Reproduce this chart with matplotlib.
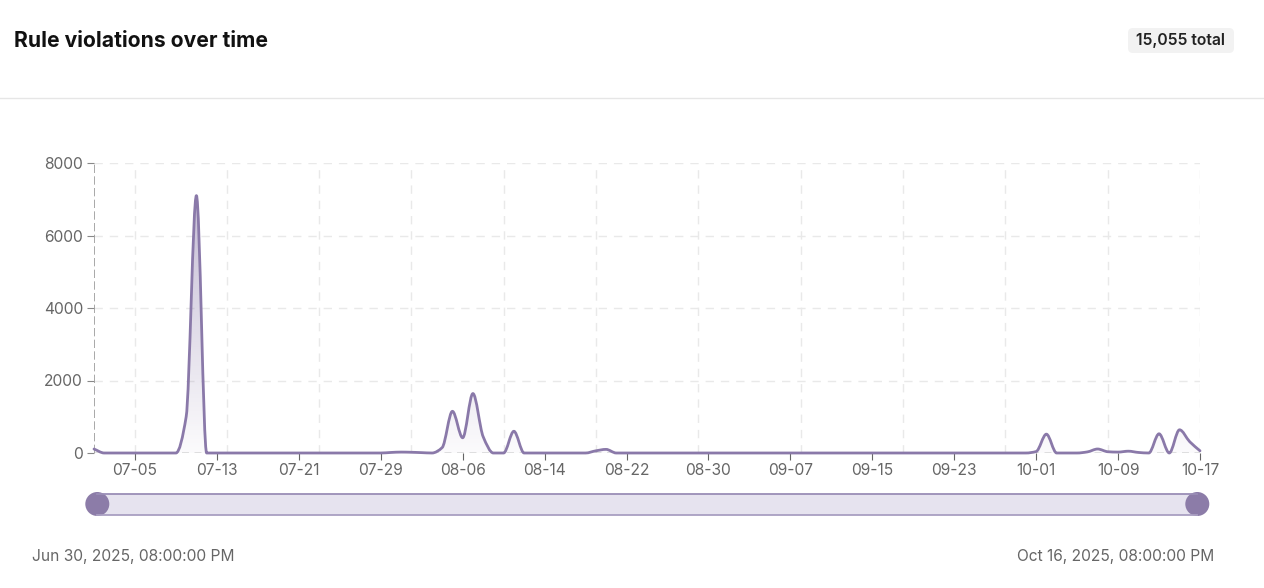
import datetime as dt
import numpy as np
import matplotlib
matplotlib.use("Agg")
import matplotlib.pyplot as plt
import matplotlib.dates as mdates
from matplotlib.path import Path
from matplotlib.patches import PathPatch, FancyBboxPatch, Circle, Rectangle

plt.rcParams['font.family'] = ['Inter', 'DejaVu Sans']

# ---------------- data ----------------
title = "Rule violations over time"
total_label = "15,055 total"
start_date = dt.date(2025, 7, 1)
end_date = dt.date(2025, 10, 17)

# daily counts, 07-01 .. 07-31
july = [110, 0, 0, 0, 0, 0, 0, 0, 0, 1000,
        7100, 0, 0, 0, 0, 0, 0, 0, 0, 0,
        0, 0, 0, 0, 0, 0, 0, 0, 0, 15,
        25]
# 08-01 .. 08-31
august = [20, 10, 0, 150, 1150, 420, 1640, 450, 0, 0,
          600, 0, 0, 0, 0, 0, 0, 0, 60, 100,
          0, 0, 0, 0, 0, 0, 0, 0, 0, 0,
          0]
# 09-01 .. 09-30
september = [0, 0, 0, 0, 0, 0, 0, 0, 0, 0,
             0, 0, 0, 0, 0, 0, 0, 0, 0, 0,
             0, 0, 0, 0, 0, 0, 0, 0, 0, 0]
# 10-01 .. 10-17
october = [40, 520, 0, 0, 0, 30, 110, 35, 25, 50,
           15, 0, 530, 0, 640, 310, 60]

y_ticks = [0, 2000, 4000, 6000, 8000]
x_tick_dates = ["2025-07-05", "2025-07-13", "2025-07-21", "2025-07-29",
                "2025-08-06", "2025-08-14", "2025-08-22", "2025-08-30",
                "2025-09-07", "2025-09-15", "2025-09-23", "2025-10-01",
                "2025-10-09", "2025-10-17"]
x_tick_labels = ["07-05", "07-13", "07-21", "07-29", "08-06", "08-14", "08-22",
                 "08-30", "09-07", "09-15", "09-23", "10-01", "10-09", "10-17"]
x_grid_dates = ["2025-07-05", "2025-07-14", "2025-07-23", "2025-08-01",
                "2025-08-10", "2025-08-19", "2025-08-29", "2025-09-08",
                "2025-09-18", "2025-09-28", "2025-10-08", "2025-10-17"]
slider_start_label = "Jun 30, 2025, 08:00:00 PM"
slider_end_label = "Oct 16, 2025, 08:00:00 PM"

values = np.array(july + august + september + october, dtype=float)
dates = [start_date + dt.timedelta(days=i) for i in range(len(values))]

# ---------------- style ----------------
W, H = 1264, 588
LINE = '#8a79a9'
GRID = '#e9e9e9'
TXT = '#666666'
FS = 11.2

fig = plt.figure(figsize=(W / 100, H / 100), dpi=100)
fig.patch.set_facecolor('white')

# background overlay in pixel coordinates
bg = fig.add_axes([0, 0, 1, 1], zorder=0)
bg.set_xlim(0, W)
bg.set_ylim(H, 0)
bg.axis('off')
bg.plot([0, W], [98, 98], color='#e6e6e6', lw=1.0)
bg.text(14, 41, title, fontsize=15.2, fontweight='bold', color='#111111',
        ha='left', va='center')
badge = FancyBboxPatch((1128, 28), 106, 25, boxstyle="round,pad=0,rounding_size=5",
                       facecolor='#f2f2f2', edgecolor='none')
bg.add_patch(badge)
bg.text(1180.5, 40.5, total_label, fontsize=11.3, fontweight='semibold', color='#222222',
        ha='center', va='center')

# slider
bg.add_patch(Rectangle((97, 494), 1100, 20.5, facecolor='#e6e3ef', edgecolor='none'))
bg.plot([97, 1197], [494, 494], color='#9a8db6', lw=1.3)
bg.plot([97, 1197], [514.5, 514.5], color='#a99fc2', lw=1.3)
bg.add_patch(Circle((97.3, 504), 12, facecolor='#8c7ca8', edgecolor='none'))
bg.add_patch(Circle((1197.3, 504), 12, facecolor='#8c7ca8', edgecolor='none'))
bg.text(133.5, 556, slider_start_label, fontsize=FS, color=TXT, ha='center', va='center')
bg.text(1115.5, 556, slider_end_label, fontsize=FS, color=TXT, ha='center', va='center')

# main axes
ax = fig.add_axes([94 / W, 135 / H, 1106 / W, 290 / H], zorder=1)
ax.patch.set_alpha(0)
x0 = mdates.date2num(start_date)
x1 = mdates.date2num(end_date)
ax.set_xlim(x0, x1)
ax.set_ylim(0, 8000)
for s in ax.spines.values():
    s.set_visible(False)

# grid
for yv in y_ticks[1:]:
    ax.axhline(yv, color=GRID, lw=1.0, ls=(0, (6, 5)), zorder=1)
for gd in x_grid_dates:
    ax.axvline(mdates.datestr2num(gd), color=GRID, lw=1.0, ls=(0, (6, 5)), zorder=1)

# axes lines
ax.axhline(0, color='#666666', lw=1.0, ls=(0, (5, 4)), zorder=2)
ax.axvline(x0, color='#999999', lw=1.2, ls=(0, (5, 2)), zorder=2)

# smooth monotone curve via cubic bezier
x = mdates.date2num(dates)
y = values
h = np.diff(x)
d = np.diff(y) / h
m = np.zeros(len(x))
for k in range(1, len(x) - 1):
    if d[k - 1] * d[k] > 0:
        m[k] = 2.0 / (1.0 / d[k - 1] + 1.0 / d[k])
m[0] = d[0]
m[-1] = d[-1]
verts = [(x[0], y[0])]
codes = [Path.MOVETO]
for i in range(len(x) - 1):
    verts += [(x[i] + h[i] / 3, y[i] + m[i] * h[i] / 3),
              (x[i + 1] - h[i] / 3, y[i + 1] - m[i + 1] * h[i] / 3),
              (x[i + 1], y[i + 1])]
    codes += [Path.CURVE4] * 3

line_path = Path(verts, codes)
fill_path = Path([(x[0], 0)] + verts + [(x[-1], 0), (x[0], 0)],
                 [Path.MOVETO, Path.LINETO] + codes[1:] + [Path.LINETO, Path.CLOSEPOLY])

fill_patch = PathPatch(fill_path, facecolor='none', edgecolor='none')
ax.add_patch(fill_patch)
grad = np.zeros((256, 1, 4))
c = matplotlib.colors.to_rgb(LINE)
grad[:, 0, 0], grad[:, 0, 1], grad[:, 0, 2] = c
grad[:, 0, 3] = np.linspace(0.03, 0.5, 256)
im = ax.imshow(grad, extent=[x0, x1, 0, y.max()], origin='lower', aspect='auto',
               zorder=3, interpolation='bilinear')
im.set_clip_path(fill_patch)
ax.set_xlim(x0, x1)
ax.set_ylim(0, 8000)

ax.add_patch(PathPatch(line_path, facecolor='none', edgecolor=LINE, lw=2.0,
                       zorder=4, capstyle='round', joinstyle='round', clip_on=False))

# ticks
ax.set_yticks(y_ticks)
ax.set_yticklabels([str(v) for v in y_ticks])
ax.set_xticks([mdates.datestr2num(t) for t in x_tick_dates])
ax.set_xticklabels(x_tick_labels)
ax.tick_params(axis='y', length=5.4, width=0.8, color='#888888', pad=2.5,
               labelsize=FS, labelcolor=TXT)
ax.tick_params(axis='x', length=5.0, width=0.8, color='#666666', pad=2.5,
               labelsize=FS, labelcolor=TXT)

fig.savefig('out.png', dpi=100, facecolor='white')
